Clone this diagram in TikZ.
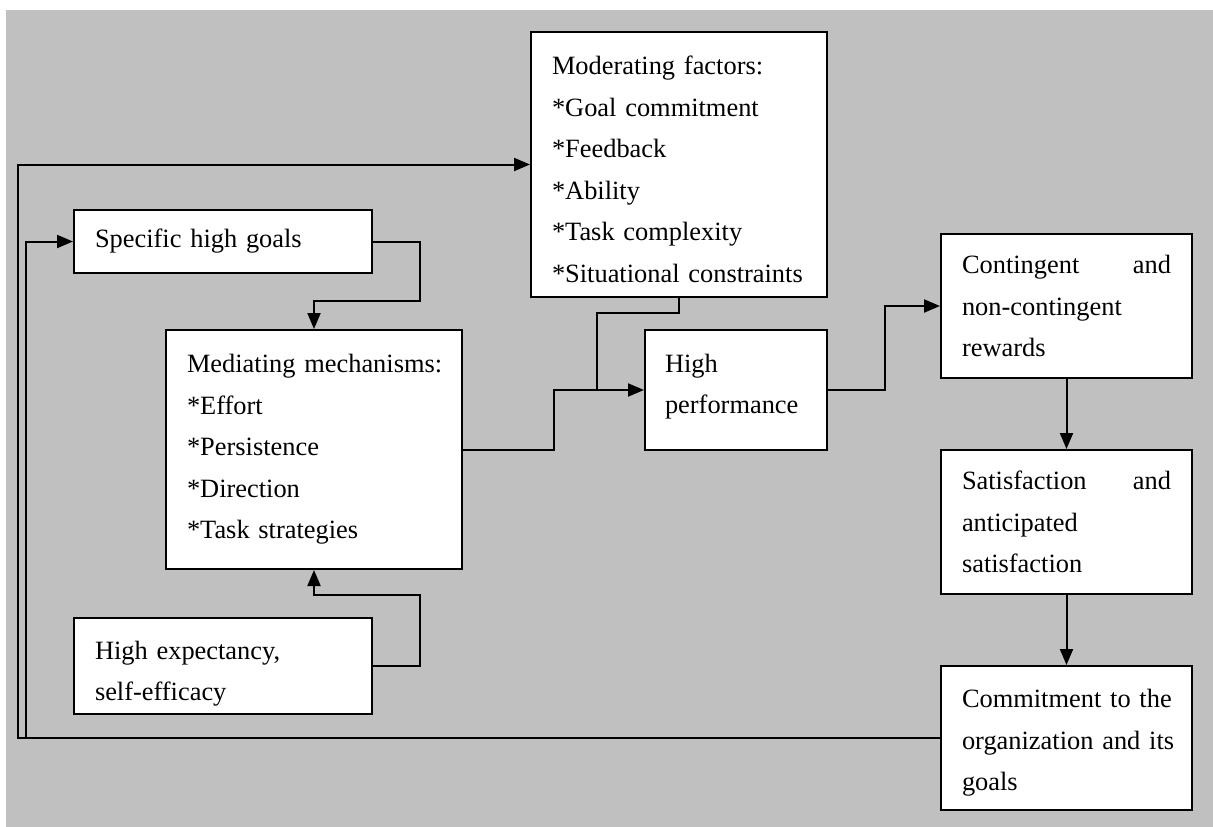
\documentclass[tikz,border=0pt]{standalone}
\usepackage{fontspec}
\setmainfont{Liberation Serif}
\usetikzlibrary{arrows.meta}
\definecolor{bggray}{HTML}{C0C0C0}
\newcommand{\boxline}[1]{\mbox{#1}}
\begin{document}
\begin{tikzpicture}[x=1pt,y=-1pt,
  box/.style={draw, fill=white, line width=2pt, inner sep=0pt, align=left,
    font=\fontsize{26.4}{41.5}\selectfont},
  conn/.style={line width=2pt},
  arr/.style={line width=2pt, -{Triangle[length=16pt,width=13pt]}}]
\useasboundingbox[fill=white] (0,0) rectangle (1213,827);
\fill[bggray] (6,10) rectangle (1213,827);

\node[box, minimum width=296pt, minimum height=265pt, text width=254pt] (mod) at (679,164.5)
  {\boxline{\rule{0pt}{28pt}Moderating factors:}\\\boxline{*Goal commitment}\\\boxline{*Feedback}\\\boxline{*Ability}\\\boxline{*Task complexity}\\\boxline{*Situational constraints}};
\node[box, minimum width=298pt, minimum height=63pt, text width=256pt] (spec) at (223,241.5)
  {\boxline{Specific high goals}};
\node[box, minimum width=296pt, minimum height=239pt, text width=254pt] (med) at (314,449.5)
  {\boxline{Mediating mechanisms:}\\\boxline{*Effort}\\\boxline{*Persistence}\\\boxline{*Direction}\\\boxline{*Task strategies}};
\node[box, minimum width=298pt, minimum height=96pt, text width=256pt] (he) at (223,666)
  {\boxline{\rule{0pt}{34pt}High expectancy,}\\\boxline{self-efficacy}};
\node[box, minimum width=182pt, minimum height=120pt, text width=142pt] (hp) at (736,390)
  {\boxline{High}\\\boxline{performance\rule[-12pt]{0pt}{1pt}}};
\node[box, minimum width=251pt, minimum height=144pt, text width=209pt] (cont) at (1066.5,306)
  {Contingent\hfill and\\\boxline{non-contingent}\\\boxline{rewards}};
\node[box, minimum width=251pt, minimum height=144pt, text width=209pt] (sat) at (1066.5,522)
  {Satisfaction\hfill and\\\boxline{anticipated}\\\boxline{satisfaction}};
\node[box, minimum width=251pt, minimum height=144pt, text width=209pt] (com) at (1066.5,738)
  {\boxline{\rule{0pt}{28pt}Commitment to the}\\\boxline{organization and its}\\\boxline{goals}};

\coordinate (outer) at (18,0);
\coordinate (inner) at (26,0);
\coordinate (join) at (597,390);

\draw[arr] (spec.east) -- ++(47,0) |- ([yshift=28pt]med.north) -- (med.north);
\draw[arr] (he.east) -- ++(47,0) |- ([yshift=-25pt]med.south) -- (med.south);
\draw[arr] (med.east) -- ++(91,0) |- (hp.west);
\draw[conn] (mod.south) -- ++(0,15) -| (join);
\draw[arr] (hp.east) -- ++(57,0) |- (cont.west);
\draw[arr] (cont.south) -- (sat.north);
\draw[arr] (sat.south) -- (com.north);
\draw[arr] (com.west) -- (com.west -| outer) |- (mod.west);
\draw[arr] (com.west -| inner) |- (spec.west);
\end{tikzpicture}
\end{document}
